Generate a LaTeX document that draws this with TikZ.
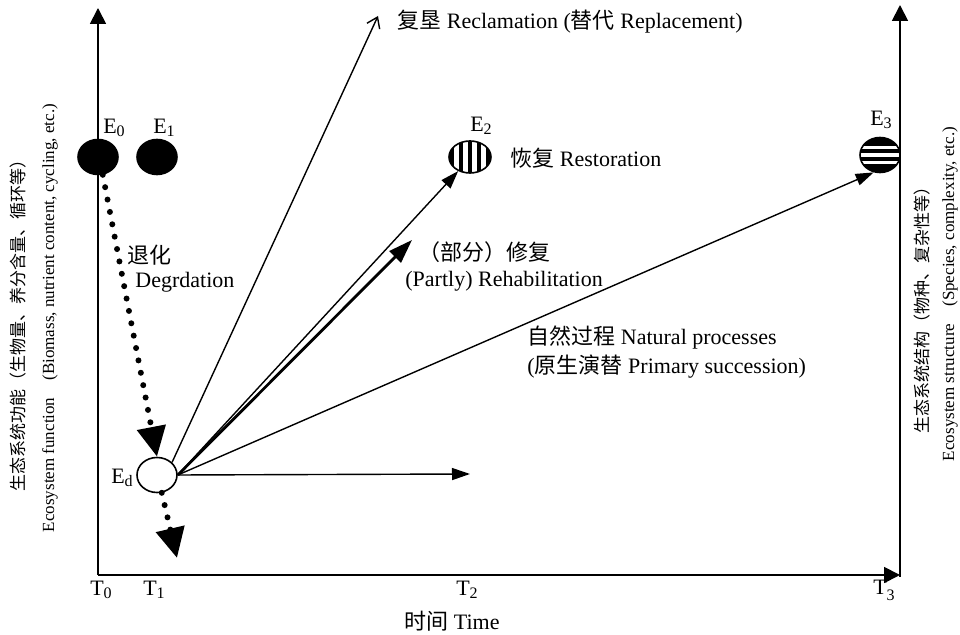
\documentclass[tikz,border=0pt]{standalone}
\usepackage{fontspec}
\setmainfont{Liberation Serif}
\newfontfamily\cjk{Noto Sans CJK SC}
\usetikzlibrary{arrows.meta,positioning,shapes.geometric}

\newcommand{\sublab}[2]{#1\raisebox{-0.3ex}{\footnotesize #2}}

\begin{document}
\begin{tikzpicture}[x=0.5pt,y=-0.5pt,
	state/.style={ellipse,draw,line width=0.8pt,minimum width=20pt,minimum height=17.5pt,inner sep=0pt},
	lbl/.style={font=\fontsize{11}{13}\selectfont,inner sep=0pt},
	axislbl/.style={font=\fontsize{8.5}{10}\selectfont,inner sep=0pt,rotate=90},
	axis/.style={line width=0.9pt,-{Triangle[length=8pt,width=8pt]}},
	route/.style={line width=0.7pt,-{Triangle[length=9pt,width=6pt]}},
	degr/.style={line width=3pt,line cap=round,dash pattern=on 0pt off 6.3pt,-{Triangle[length=15pt,width=14pt]}},
	stripev/.style={path picture={
		\fill[black] (path picture bounding box.south west) rectangle (path picture bounding box.north east);
		\begin{scope}[shift={(path picture bounding box.center)}]
			\foreach \sx in {-13.5,-4.5,4.5,13.5}
				\fill[white] (\sx-2.2,-20) rectangle (\sx+2.2,20);
		\end{scope}}},
	stripeh/.style={path picture={
		\fill[black] (path picture bounding box.south west) rectangle (path picture bounding box.north east);
		\begin{scope}[shift={(path picture bounding box.center)}]
			\foreach \sy in {-7.5,0,7.5}
				\fill[white] (-25,\sy-1.8) rectangle (25,\sy+1.8);
		\end{scope}}}
	]
	
	\useasboundingbox (0,0) rectangle (960,635);
	
	% axes
	\coordinate (O) at (98,575);
	\coordinate (ytop) at (98,8);
	\coordinate (xend) at (900,575);
	\coordinate (rbot) at (900,577);
	\coordinate (rtop) at (900,5);
	\draw[axis] (O) -- (ytop);
	\draw[axis] (O) -- (xend);
	\draw[axis] (rbot) -- (rtop);
	
	% states
	\node[state,fill=black] (E0) at (98,157) {};
	\node[state,fill=black] (E1) at (157,157) {};
	\node[state,stripev,minimum width=21pt,minimum height=16pt] (E2) at (470,157) {};
	\node[state,stripeh] (E3) at (880,155) {};
	\node[state,fill=white] (Ed) at (157,475) {};
	
	\node[lbl] (lab0) at (114,128) {\sublab{E}{0}};
	\node[lbl] (lab1) at (164,128) {\sublab{E}{1}};
	\node[lbl] (lab2) at (481,126) {\sublab{E}{2}};
	\node[lbl] (lab3) at (881,120) {\sublab{E}{3}};
	\node[lbl] (labd) at (122,478) {\sublab{E}{d}};
	
	% pathways
	\coordinate (reclTip) at (378,16);
	\coordinate (rehTip) at (412,240);
	\coordinate (horTip) at (470,474);
	\coordinate (fallTip) at (177,558);
	
	\draw[route,-{Straight Barb[length=5pt,width=7pt]}] (Ed.40) -- (reclTip);
	\draw[route] (Ed.east) -- (E2.230);
	\draw[route,line width=1.4pt,-{Triangle[length=12pt,width=8pt]}] (Ed.east) -- (rehTip);
	\draw[route] (Ed.east) -- (E3.250);
	\draw[route] (Ed.east) -- (horTip);
	\draw[degr] (E0.285) -- (Ed.north);
	\draw[degr] (Ed.285) -- (fallTip);
	
	% texts
	\node[lbl,anchor=west] (recl) at (397,22) {{\cjk 复垦} Reclamation ({\cjk 替代} Replacement)};
	\node[lbl,anchor=west] (rest) at (510,158) {{\cjk 恢复} Restoration};
	\node[lbl,anchor=west] (reh1) at (418,252) {\cjk （部分）修复};
	\node[lbl,anchor=west] (reh2) at (405,281) {(Partly) Rehabilitation};
	\node[lbl,anchor=west] (nat1) at (527,338) {{\cjk 自然过程} Natural processes};
	\node[lbl,anchor=west] (nat2) at (527,367) {({\cjk 原生演替} Primary succession)};
	\node[lbl,anchor=west] (deg1) at (127,255) {\cjk 退化};
	\node[lbl,anchor=west] (deg2) at (135,282) {Degrdation};
	
	\node[lbl] (t0) at (101,590) {\sublab{T}{0}};
	\node[lbl] (t1) at (154,590) {\sublab{T}{1}};
	\node[lbl] (t2) at (467,590) {\sublab{T}{2}};
	\node[lbl] (t3) at (884,590) {T\raisebox{-0.6ex}{\footnotesize 3}};
	\node[lbl] (time) at (452,621) {{\cjk 时间} Time};
	
	\node[axislbl] (fcn1) at (18,322) {\cjk 生态系统功能（生物量、养分含量、循环等）};
	\node[axislbl] (fcn2) at (50,318) {Ecosystem function\quad(Biomass, nutrient content, cycling, etc.)};
	\node[axislbl] (str1) at (922,306) {\cjk 生态系统结构（物种、复杂性等）};
	\node[axislbl] (str2) at (950,294) {Ecosystem structure\quad(Species, complexity, etc.)};
	
\end{tikzpicture}
\end{document}
